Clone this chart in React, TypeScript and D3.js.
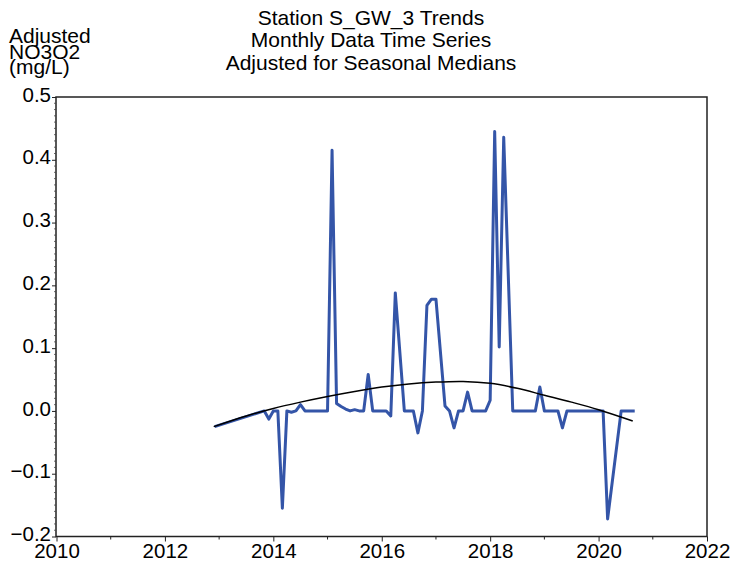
import React, { useEffect, useRef } from 'react'
import * as d3 from 'd3'

// monthly adjusted values (missing months left out, line joins across gaps)
const months = [
  '2012-12', '2013-11', '2013-12', '2014-01', '2014-02', '2014-03', '2014-04', '2014-05',
  '2014-06', '2014-07', '2014-08', '2014-09', '2014-10', '2014-11', '2014-12', '2015-01',
  '2015-02', '2015-03', '2015-04', '2015-05', '2015-06', '2015-07', '2015-08', '2015-09',
  '2015-10', '2015-11', '2015-12', '2016-01', '2016-02', '2016-03', '2016-04', '2016-06',
  '2016-07', '2016-08', '2016-09', '2016-10', '2016-11', '2016-12', '2017-01', '2017-03',
  '2017-04', '2017-05', '2017-06', '2017-07', '2017-08', '2017-09', '2017-10', '2017-11',
  '2017-12', '2018-01', '2018-02', '2018-03', '2018-04', '2018-06', '2018-07', '2018-08',
  '2018-09', '2018-10', '2018-11', '2018-12', '2019-01', '2019-02', '2019-03', '2019-04',
  '2019-05', '2019-06', '2019-07', '2019-08', '2019-09', '2019-10', '2019-11', '2019-12',
  '2020-01', '2020-02', '2020-03', '2020-06', '2020-07', '2020-08', '2020-09'
]
const adjusted = [
  -0.025, 0.0, -0.013, 0.0, 0.0, -0.155, 0.0, -0.002,
  0.0, 0.010, 0.0, 0.0, 0.0, 0.0, 0.0, 0.0,
  0.415, 0.012, 0.007, 0.003, 0.0, 0.002, 0.0, 0.0,
  0.058, 0.0, 0.0, 0.0, 0.0, -0.008, 0.188, 0.0,
  0.0, 0.0, -0.035, 0.0, 0.168, 0.178, 0.178, 0.008,
  0.0, -0.027, 0.0, 0.0, 0.030, 0.0, 0.0, 0.0,
  0.0, 0.017, 0.445, 0.102, 0.436, 0.0, 0.0, 0.0,
  0.0, 0.0, 0.0, 0.038, 0.0, 0.0, 0.0, 0.0,
  -0.027, 0.0, 0.0, 0.0, 0.0, 0.0, 0.0, 0.0,
  0.0, 0.0, -0.172, 0.0, 0.0, 0.0, 0.0
]

// smooth trend
const trendYears = [2012.9, 2013.5, 2014.0, 2014.5, 2015.0, 2015.5, 2016.0, 2016.5, 2017.0, 2017.5, 2018.0, 2018.5, 2019.0, 2019.5, 2020.0, 2020.63]
const trendValues = [-0.025, -0.008, 0.004, 0.014, 0.023, 0.031, 0.038, 0.043, 0.046, 0.047, 0.044, 0.036, 0.025, 0.014, 0.002, -0.016]

const xTicks = [2010, 2012, 2014, 2016, 2018, 2020, 2022]
const yTicks = [-0.2, -0.1, 0.0, 0.1, 0.2, 0.3, 0.4, 0.5]
const titleLines = ['Station S_GW_3 Trends', 'Monthly Data Time Series', 'Adjusted for Seasonal Medians']
const yLabelLines = ['Adjusted', 'NO3O2', '(mg/L)']

const W = 730
const H = 562
const FONT = '"Liberation Sans", Arial, sans-serif'

const toYear = (m: string) => {
  const [y, mo] = m.split('-').map(Number)
  return y + (mo - 1) / 12
}

const App: React.FC = () => {
  const svgRef = useRef<SVGSVGElement>(null)

  useEffect(() => {
    if (!svgRef.current) return
    const svg = d3.select(svgRef.current)
    svg.selectAll('*').remove()

    const left = 56, right = 707, top = 97, bottom = 536.5

    const x = d3.scaleLinear().domain([2010, 2022]).range([left + 0.5, right])
    const y = d3.scaleLinear().domain([-0.2, 0.5]).range([bottom, top])

    svg.append('rect').attr('width', W).attr('height', H).attr('fill', '#fff')

    // frame
    svg.append('rect')
      .attr('x', left).attr('y', top)
      .attr('width', right - left).attr('height', bottom - top)
      .attr('fill', 'none').attr('stroke', '#222').attr('stroke-width', 1.5)

    // x ticks
    const xg = svg.append('g').attr('transform', `translate(0,${bottom})`)
    xg.call(d3.axisBottom(x).tickValues(xTicks).tickFormat(d3.format('d')).tickSize(5).tickPadding(2))
    xg.select('.domain').remove()
    xg.selectAll('text').style('font-size', '20.5px').style('font-family', FONT).attr('fill', '#000')
    xg.selectAll('line').attr('stroke', '#222')
    const xMinor = d3.range(2011, 2022, 2)
    svg.append('g').selectAll('line').data(xMinor).enter().append('line')
      .attr('x1', d => x(d)).attr('x2', d => x(d))
      .attr('y1', bottom).attr('y2', bottom + 3)
      .attr('stroke', '#222')

    // y ticks
    const yg = svg.append('g').attr('transform', `translate(${left},0)`)
    yg.call(d3.axisLeft(y).tickValues(yTicks).tickFormat(d3.format('.1f')).tickSize(4).tickPadding(1))
    yg.select('.domain').remove()
    yg.selectAll('text').style('font-size', '20.5px').style('font-family', FONT).attr('fill', '#000').attr('dy', '0.2em')
    yg.selectAll('line').attr('stroke', '#222')
    const yMinor = d3.range(-20, 50).map(v => v / 100).filter(v => Math.round(v * 100) % 10 !== 0)
    svg.append('g').selectAll('line').data(yMinor).enter().append('line')
      .attr('x1', left - 2).attr('x2', left)
      .attr('y1', d => y(d)).attr('y2', d => y(d))
      .attr('stroke', '#444').attr('stroke-width', 0.8)

    // data line
    const pts = months.map((m, i) => [toYear(m), adjusted[i]] as [number, number])
    svg.append('path')
      .datum(pts)
      .attr('d', d3.line<[number, number]>().x(d => x(d[0])).y(d => y(d[1])))
      .attr('fill', 'none')
      .attr('stroke', '#3455a8')
      .attr('stroke-width', 3)
      .attr('stroke-linejoin', 'round')

    // trend
    const tpts = trendYears.map((t, i) => [t, trendValues[i]] as [number, number])
    svg.append('path')
      .datum(tpts)
      .attr('d', d3.line<[number, number]>().x(d => x(d[0])).y(d => y(d[1])).curve(d3.curveCatmullRom))
      .attr('fill', 'none')
      .attr('stroke', '#000')
      .attr('stroke-width', 1.5)

    // title
    svg.append('g').selectAll('text').data(titleLines).enter().append('text')
      .attr('x', 371).attr('y', (_, i) => 24.5 + i * 22.8)
      .attr('text-anchor', 'middle')
      .style('font-size', '21px').style('font-family', FONT)
      .text(d => d)

    // y label
    svg.append('g').selectAll('text').data(yLabelLines).enter().append('text')
      .attr('x', 9).attr('y', (_, i) => 43 + i * 15.5)
      .style('font-size', '21px').style('font-family', FONT)
      .text(d => d)
  }, [])

  return (
    <svg ref={svgRef} width={W} height={H} style={{ position: 'absolute', left: 0, top: 0 }} />
  )
}

export default App
